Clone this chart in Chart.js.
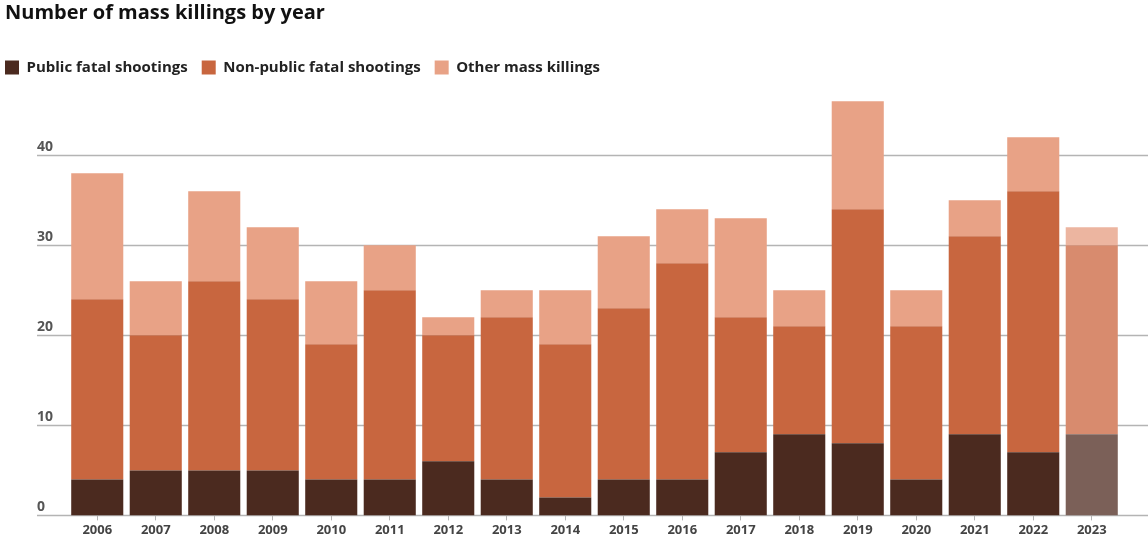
<!DOCTYPE html>
<html>
<head>
<meta charset="utf-8">
<script src="https://cdn.jsdelivr.net/npm/chart.js@4"></script>
<style>
  html, body { margin: 0; padding: 0; background: #ffffff; }
  #wrap { width: 1148px; height: 540px; position: relative; }
</style>
</head>
<body>
<div id="wrap"><canvas id="chart" width="1148" height="540"></canvas></div>
<script>
// data
const years = ['2006', '2007', '2008', '2009', '2010', '2011', '2012', '2013', '2014',
    '2015', '2016', '2017', '2018', '2019', '2020', '2021', '2022', '2023'];
const publicShootings = [4, 5, 5, 5, 4, 4, 6, 4, 2, 4, 4, 7, 9, 8, 4, 9, 7, 9];
const nonPublicShootings = [20, 15, 21, 19, 15, 21, 14, 18, 17, 19, 24, 15, 12, 26, 17, 22, 29, 21];
const otherKillings = [14, 6, 10, 8, 7, 5, 2, 3, 6, 8, 6, 11, 4, 12, 4, 4, 6, 2];
const yTicks = [0, 10, 20, 30, 40];

// colours (last year is a partial year, drawn faded)
const colors = {
    publicDark: '#4b2a1f',
    nonPublic: '#c8663f',
    other: '#e8a286',
    publicFaded: '#7b6058',
    nonPublicFaded: '#d88b6e',
    otherFaded: '#ecb5a0',
    grid: '#b4b4b4',
    label: '#555555'
};
const fontFamily = '"Open Sans", Lato, sans-serif';

const lastIndex = years.length - 1;
function pick(normal, faded) {
    return function(ctx) {
        return ctx.dataIndex === lastIndex ? faded : normal;
    };
}

// gridlines + y labels across the full width, like the original
const gridPlugin = {
    id: 'fullGrid',
    afterLayout(chart) {
        // pull the legend flush with the title
        chart.legend.left -= 14;
    },
    beforeDatasetsDraw(chart) {
        const { ctx, scales } = chart;
        const y = scales.y;
        ctx.save();
        ctx.strokeStyle = colors.grid;
        ctx.lineWidth = 1.5;
        ctx.fillStyle = colors.label;
        ctx.font = 'bold 14px ' + fontFamily;
        ctx.textAlign = 'left';
        ctx.textBaseline = 'bottom';
        yTicks.forEach(v => {
            const py = Math.round(y.getPixelForValue(v)) + 0.5;
            ctx.beginPath();
            ctx.moveTo(37, py);
            ctx.lineTo(chart.width, py);
            ctx.stroke();
            ctx.fillText(String(v), 37, py - 1);
        });
        ctx.restore();
    }
};

new Chart(document.getElementById('chart').getContext('2d'), {
    type: 'bar',
    data: {
        labels: years,
        datasets: [{
            label: 'Public fatal shootings',
            data: publicShootings,
            backgroundColor: pick(colors.publicDark, colors.publicFaded)
        }, {
            label: 'Non-public fatal shootings',
            data: nonPublicShootings,
            backgroundColor: pick(colors.nonPublic, colors.nonPublicFaded)
        }, {
            label: 'Other mass killings',
            data: otherKillings,
            backgroundColor: pick(colors.other, colors.otherFaded)
        }]
    },
    options: {
        responsive: false,
        animation: false,
        layout: {
            padding: { left: 5, right: 27, top: 0, bottom: 0 }
        },
        datasets: {
            bar: {
                categoryPercentage: 1.0,
                barPercentage: 0.89,
                borderWidth: 0
            }
        },
        plugins: {
            title: {
                display: true,
                text: 'Number of mass killings by year',
                align: 'start',
                color: '#111111',
                font: { size: 20, weight: 'bold', family: fontFamily },
                padding: { top: 1, bottom: 21 }
            },
            legend: {
                display: true,
                align: 'start',
                labels: {
                    boxWidth: 14,
                    boxHeight: 14,
                    padding: 14,
                    color: '#222222',
                    font: { size: 15, weight: 'bold', family: fontFamily }
                }
            },
            tooltip: { enabled: false }
        },
        scales: {
            x: {
                stacked: true,
                border: { display: false },
                grid: {
                    display: true,
                    drawOnChartArea: false,
                    drawTicks: true,
                    tickLength: 5,
                    offset: false,
                    color: colors.grid
                },
                ticks: {
                    color: '#444444',
                    padding: 2,
                    font: { size: 13, weight: 'bold', family: fontFamily }
                }
            },
            y: {
                stacked: true,
                min: 0,
                max: 47.8,
                border: { display: false },
                grid: { display: false },
                ticks: { display: false },
                afterFit(scale) {
                    scale.width = 63;
                }
            }
        }
    },
    plugins: [gridPlugin]
});
</script>
</body>
</html>
